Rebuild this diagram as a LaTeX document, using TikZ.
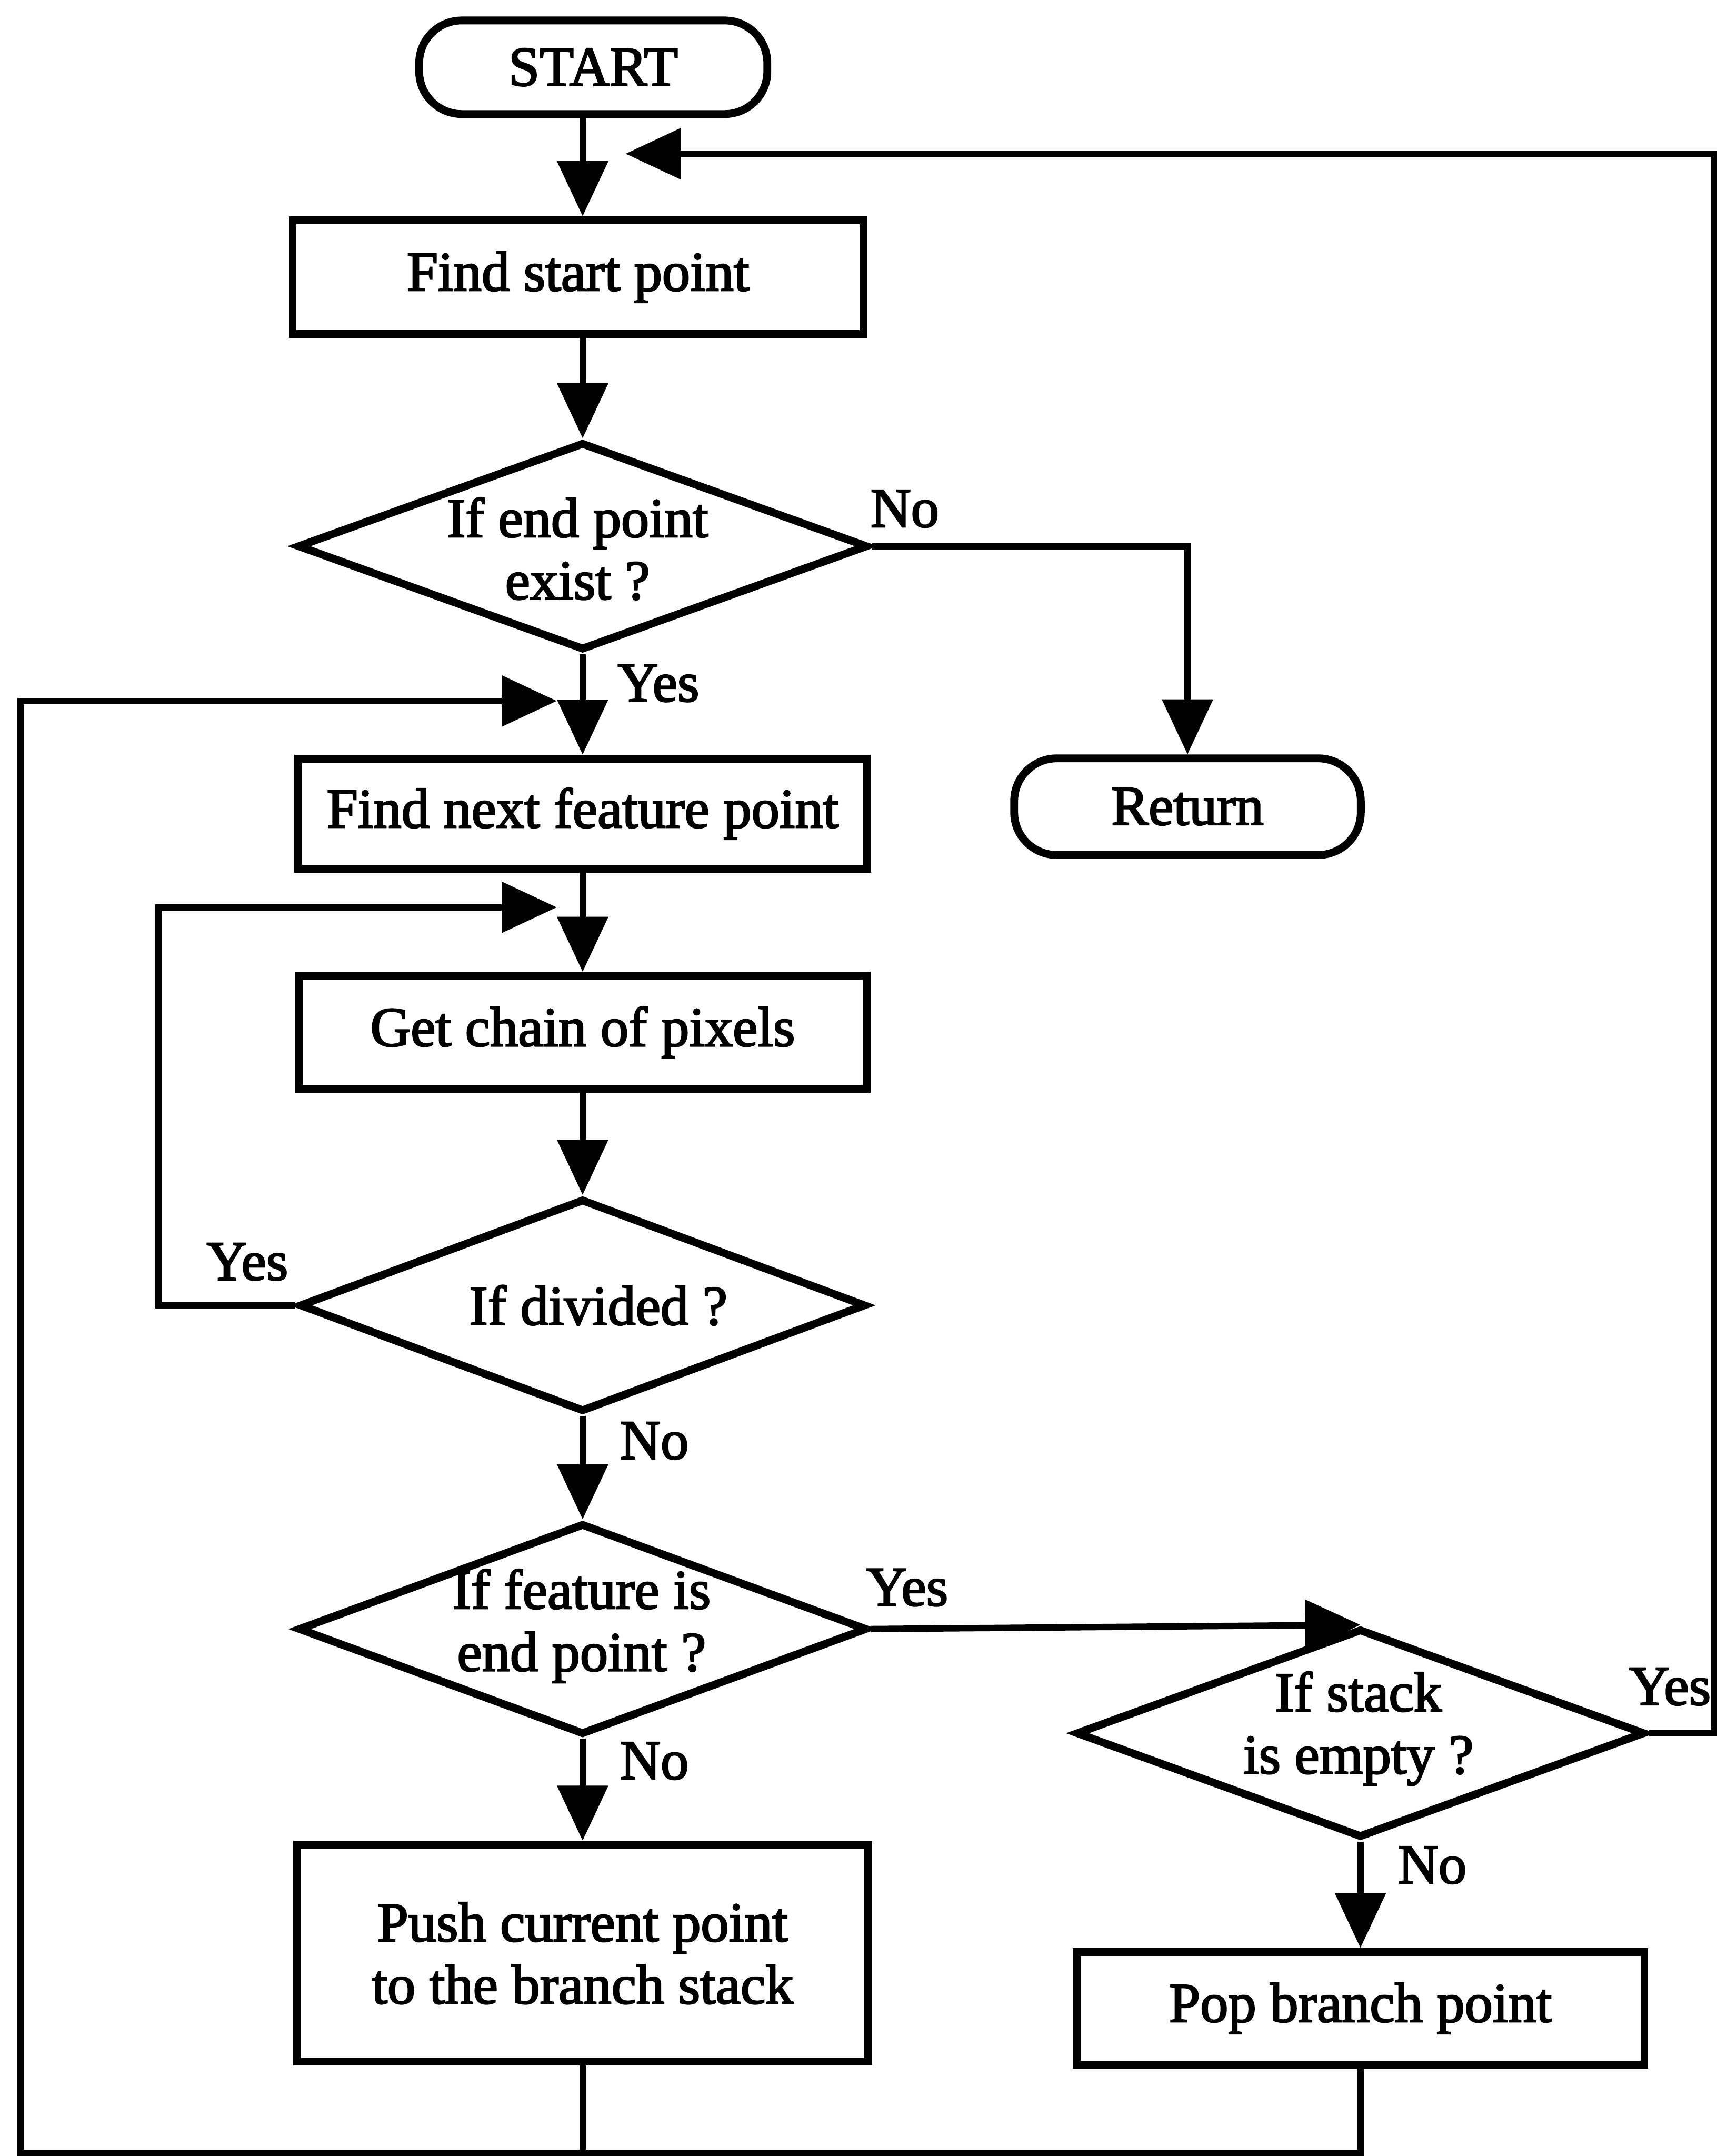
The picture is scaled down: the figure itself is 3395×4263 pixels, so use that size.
\documentclass[tikz,border=0pt]{standalone}
\usepackage{fontspec}
\setmainfont[FakeBold=2.5]{Liberation Serif}
\usetikzlibrary{shapes.geometric,arrows.meta}

\begin{document}
\begin{tikzpicture}[x=0.01cm,y=-0.01cm,
  every node/.style={font=\fontsize{31.5}{35}\selectfont},
  proc/.style={draw, line width=4.4pt, rectangle, inner sep=0pt, align=center},
  term/.style={draw, line width=4.4pt, rectangle, rounded corners=24pt, inner sep=0pt},
  decide/.style={draw, line width=4.4pt, diamond, inner sep=0pt},
  txt/.style={align=center, inner sep=0pt},
  flow/.style={line width=3.6pt, -{Triangle[length=31pt,width=28pt]}},
  link/.style={line width=3.6pt},
  lbl/.style={inner sep=0pt}
]
\useasboundingbox (0,0) rectangle (3395,4263);

% main column
\coordinate (axis) at (1152,0);
\node[term, minimum width=6.88cm, minimum height=1.85cm] (start) at (1173,133) {START};
\node[proc, minimum width=11.28cm, minimum height=2.25cm] (fsp) at (1143,548) {Find start point};
\node[decide, minimum width=11.28cm, minimum height=4.11cm] (d1) at (1152,1080) {};
\node[txt] (d1t) at (1142,1085) {If end point\\exist ?};
\node[term, minimum width=6.85cm, minimum height=1.91cm] (ret) at (2348,1595) {Return};
\node[proc, minimum width=11.25cm, minimum height=2.18cm] (fnf) at (1152,1609) {Find next feature point};
\node[proc, minimum width=11.22cm, minimum height=2.23cm] (gcp) at (1152,2041) {Get chain of pixels};
\node[decide, minimum width=11.20cm, minimum height=4.21cm] (d2) at (1152,2581) {};
\node[txt] (d2t) at (1183,2581) {If divided ?};
\node[decide, minimum width=11.25cm, minimum height=4.18cm] (d3) at (1152,3221) {};
\node[txt] (d3t) at (1150,3215) {If feature is\\end point ?};
\node[proc, minimum width=11.28cm, minimum height=4.29cm] (push) at (1152,3862) {Push current point\\to the branch stack};
\node[decide, minimum width=11.25cm, minimum height=4.13cm] (d4) at (2690,3427) {};
\node[txt] (d4t) at (2686,3418) {If stack\\is empty ?};
\node[proc, minimum width=11.22cm, minimum height=2.23cm] (pop) at (2690,3971) {Pop branch point};

% free ends of the loop-back arrows and the routing corners
\coordinate (tip1) at (1237,304);
\coordinate (redge) at (3390,304);
\coordinate (tip2) at (1101,1386);
\coordinate (bot) at (41,4257);
\coordinate (tip3) at (1101,1794);
\coordinate (inner) at (313,1794);

% connectors
\draw[flow] (start.south -| axis) -- (fsp.north -| axis);
\draw[flow] (fsp.south -| axis) -- (d1.north);
\draw[flow] (d1.south) -- (fnf.north);
\draw[flow] (d1.east) -| (ret.north);
\draw[flow] (fnf.south) -- (gcp.north);
\draw[flow] (gcp.south) -- (d2.north);
\draw[flow] (d2.south) -- (d3.north);
\draw[flow] (d3.south) -- (push.north);
\draw[flow] (d3.east) -- (d4.north);
\draw[flow] (d4.south) -- (pop.north);
\draw[flow] (d4.east) -| (redge) -- (tip1);
\draw[flow] (push.south) |- (bot) -- (bot |- tip2) -- (tip2);
\draw[link] (pop.south) |- (push.south |- bot);
\draw[flow] (d2.west) -| (inner) -- (tip3);

% branch labels
\node[lbl] (l1) at (1789,1006) {No};
\node[lbl] (l2) at (1302,1351) {Yes};
\node[lbl] (l3) at (489,2495) {Yes};
\node[lbl] (l4) at (1294,2849) {No};
\node[lbl] (l5) at (1794,3139) {Yes};
\node[lbl] (l6) at (1294,3482) {No};
\node[lbl] (l7) at (3302,3335) {Yes};
\node[lbl] (l8) at (2832,3688) {No};
\end{tikzpicture}
\end{document}
